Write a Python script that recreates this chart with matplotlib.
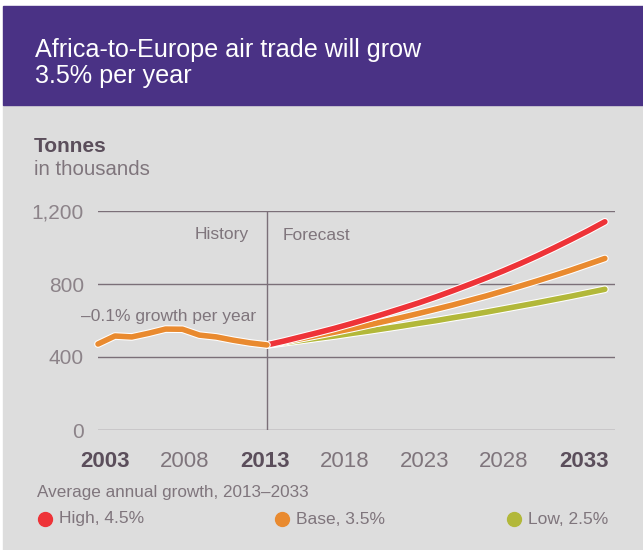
# Africa-to-Europe air trade chart
import matplotlib.pyplot as plt
import matplotlib.patheffects as pe
import matplotlib.transforms as mtransforms
from matplotlib.patches import Rectangle

# Data (thousand tonnes)
hist_years = [2003, 2004, 2005, 2006, 2007, 2008, 2009, 2010, 2011, 2012, 2013]
hist_vals = [471, 515, 510, 530, 553, 552, 520, 510, 492, 477, 466]

fc_years = list(range(2013, 2034))
high_vals = [466, 487, 510, 533, 557, 583, 610, 638, 667, 697, 729,
             763, 798, 834, 872, 912, 954, 998, 1044, 1091, 1141]
base_vals = [466, 483, 500, 518, 536, 555, 575, 596, 617, 639, 662,
             685, 710, 735, 762, 789, 817, 846, 876, 908, 940]
low_vals = [466, 478, 490, 503, 515, 529, 542, 556, 570, 585, 599,
            615, 630, 646, 663, 680, 697, 715, 733, 752, 771]

xticks = [2003, 2008, 2013, 2018, 2023, 2028, 2033]
bold_ticks = [2003, 2013, 2033]
yticks = [0, 400, 800, 1200]
ytick_labels = ['0', '400', '800', '1,200']

legend_labels = ['High, 4.5%', 'Base, 3.5%', 'Low, 2.5%']

# Colours
PURPLE = '#4a3285'
BG = '#dddddd'
RED = '#ee3338'
ORANGE = '#e98a2f'
GREEN = '#b2b83a'
DARK = '#5b4e5b'
LIGHT = '#7f757c'
GRID = '#7b6f78'

plt.rcParams['font.family'] = ['Liberation Sans', 'DejaVu Sans']

W, H = 643, 550
fig = plt.figure(figsize=(W / 100, H / 100), dpi=100, facecolor='white')

def fx(px):
    return px / W

def fy(py):
    return 1 - py / H

# Background panels
fig.patches.append(Rectangle((fx(3), fy(550)), fx(640), (550 - 105) / H,
                             transform=fig.transFigure, color=BG, zorder=-2))
fig.patches.append(Rectangle((fx(3), fy(105)), fx(640), (105 - 6) / H,
                             transform=fig.transFigure, color=PURPLE, zorder=-2))

# Title
fig.text(fx(35), fy(57), 'Africa-to-Europe air trade will grow', color='white',
         fontsize=18.1, va='baseline', ha='left')
fig.text(fx(35), fy(83), '3.5% per year', color='white',
         fontsize=18.1, va='baseline', ha='left')

# Unit label
fig.text(fx(34), fy(152), 'Tonnes', color=DARK, fontsize=15, fontweight='bold',
         va='baseline')
fig.text(fx(34), fy(175), 'in thousands', color=LIGHT, fontsize=14.7, va='baseline')

# Axes
ax = fig.add_axes([fx(98), fy(430), (615 - 98) / W, (430 - 211) / H])
ax.set_facecolor('none')
ax.set_xlim(2003, 2033.6)
ax.set_ylim(0, 1200)
for s in ax.spines.values():
    s.set_visible(False)

for y in yticks:
    ax.axhline(y, color=GRID, lw=1, zorder=1)
ax.axvline(2013, color=GRID, lw=1, zorder=1)

ax.set_yticks(yticks)
ax.set_yticklabels(ytick_labels)
ax.tick_params(axis='y', length=0, pad=10, labelsize=15, labelcolor='#8c8389')
ax.set_xticks(xticks)
ax.set_xticklabels([str(x) for x in xticks])
ax.tick_params(axis='x', length=0, pad=15, labelsize=16)
# the year labels sit a little inside the data span in the original
n = len(xticks)
for i, (lab, yr) in enumerate(zip(ax.get_xticklabels(), xticks)):
    shift = 7 - 28 * i / (n - 1)
    lab.set_transform(lab.get_transform() +
                      mtransforms.ScaledTranslation(shift / 100, 0, fig.dpi_scale_trans))
    if yr in bold_ticks:
        lab.set_fontweight('bold')
        lab.set_color(DARK)
    else:
        lab.set_color(LIGHT)

stroke = [pe.withStroke(linewidth=5.5, foreground='white')]
ax.plot(fc_years, low_vals, color=GREEN, lw=4, solid_capstyle='round',
        path_effects=stroke, zorder=3, clip_on=False)
ax.plot(fc_years, base_vals, color=ORANGE, lw=4, solid_capstyle='round',
        path_effects=stroke, zorder=4, clip_on=False)
ax.plot(fc_years, high_vals, color=RED, lw=4, solid_capstyle='round',
        path_effects=stroke, zorder=5, clip_on=False)
ax.plot(hist_years, hist_vals, color=ORANGE, lw=4, solid_capstyle='round',
        solid_joinstyle='round', path_effects=stroke, zorder=6, clip_on=False)

ax.annotate('History', xy=(2013, 1200), xytext=(-18, -24), textcoords='offset pixels',
            ha='right', va='center', fontsize=12.5, color=LIGHT)
ax.annotate('Forecast', xy=(2013, 1200), xytext=(16, -24), textcoords='offset pixels',
            ha='left', va='center', fontsize=12.5, color=LIGHT)
ax.text(2002.0, 620, '\u20130.1% growth per year', ha='left', va='center',
        fontsize=12.5, color=LIGHT, clip_on=False)

# Legend
fig.text(fx(37), fy(493), 'Average annual growth, 2013\u20132033', color=LIGHT,
         fontsize=12.3, va='center')
leg_x = [45, 282, 514]
leg_colors = [RED, ORANGE, GREEN]
for lx, c, lab in zip(leg_x, leg_colors, legend_labels):
    fig.lines.append(plt.Line2D([fx(lx)], [fy(519)], marker='o', markersize=10,
                                color=c, transform=fig.transFigure))
    fig.text(fx(lx + 14), fy(519), lab, color=LIGHT, fontsize=12.5, va='center')

fig.savefig('out.png', dpi=100, facecolor='white')
